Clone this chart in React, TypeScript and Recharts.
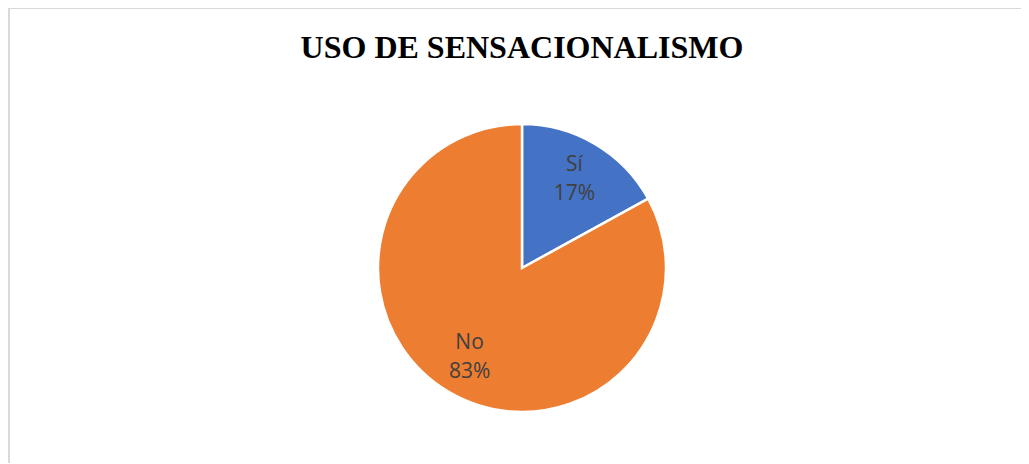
import { PieChart, Pie, Cell } from "recharts"

const categories = ["Sí", "No"]
const values = [17, 83]
const colors = ["#4472C4", "#ED7D31"]

const data = categories.map((name, i) => ({ name, value: values[i] }))

const RAD = Math.PI / 180

const renderLabel = (props: any) => {
  const { cx, cy, midAngle, outerRadius, name, percent } = props
  const r = outerRadius * 0.715
  const x = cx + r * Math.cos(-midAngle * RAD)
  const y = cy + r * Math.sin(-midAngle * RAD)
  return (
    <text
      x={x}
      y={y}
      textAnchor="middle"
      fill="#404040"
      style={{ fontFamily: "'Open Sans', sans-serif", fontSize: 21 }}
    >
      <tspan x={x} y={y - 8}>{name}</tspan>
      <tspan x={x} y={y + 21}>{`${Math.round(percent * 100)}%`}</tspan>
    </text>
  )
}

export default function App() {
  return (
    <div
      style={{
        width: 1021,
        height: 456,
        borderTop: "2px solid #d9d9d9",
        borderLeft: "2px solid #d9d9d9",
        boxSizing: "border-box",
        marginTop: -1,
        background: "#fff",
      }}
    >
      <PieChart width={1019} height={454} margin={{ top: 0, right: 0, bottom: 0, left: 0 }}>
        <text
          x={512}
          y={49}
          textAnchor="middle"
          fill="#000"
          style={{ fontFamily: "'Liberation Serif', 'Times New Roman', serif", fontSize: 32, fontWeight: 700 }}
        >
          USO DE SENSACIONALISMO
        </text>
        <Pie
          data={data}
          dataKey="value"
          nameKey="name"
          cx={512}
          cy={259}
          outerRadius={144}
          startAngle={90}
          endAngle={-270}
          stroke="#fff"
          strokeWidth={2.5}
          label={renderLabel}
          labelLine={false}
          isAnimationActive={false}
        >
          {data.map((_, i) => (
            <Cell key={`cell-${i}`} fill={colors[i]} />
          ))}
        </Pie>
      </PieChart>
    </div>
  )
}
